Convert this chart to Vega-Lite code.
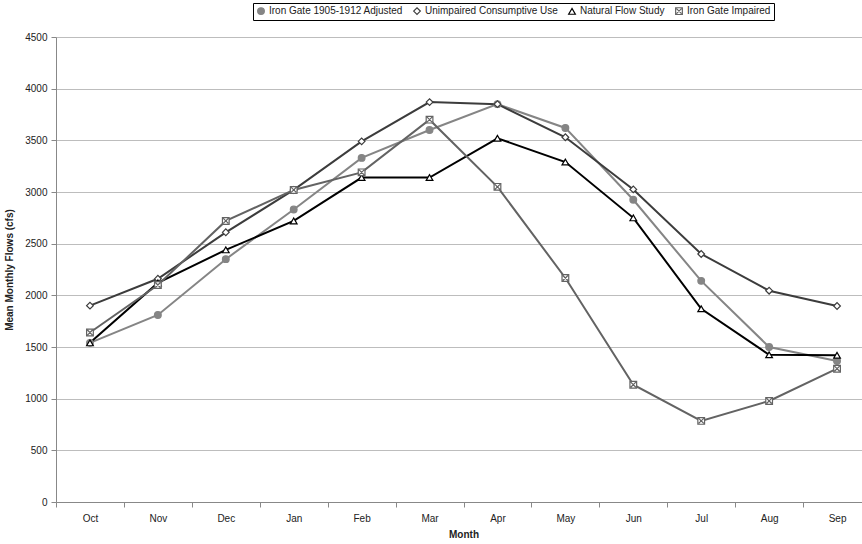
{
  "$schema": "https://vega.github.io/schema/vega-lite/v6.json",
  "width": 806,
  "height": 465,
  "autosize": {"type": "none"},
  "padding": {"left": 56, "top": 37, "right": 0, "bottom": 42},
  "background": "white",
  "config": {
    "font": "Liberation Sans",
    "view": {"stroke": null},
    "axis": {"labelFont": "Liberation Sans", "titleFont": "Liberation Sans", "labelColor": "#222", "titleColor": "#222"}
  },
  "data": {
    "values": [
      {"month": "Oct", "series": "Iron Gate 1905-1912 Adjusted", "flow": 1540},
      {"month": "Nov", "series": "Iron Gate 1905-1912 Adjusted", "flow": 1810},
      {"month": "Dec", "series": "Iron Gate 1905-1912 Adjusted", "flow": 2350},
      {"month": "Jan", "series": "Iron Gate 1905-1912 Adjusted", "flow": 2830},
      {"month": "Feb", "series": "Iron Gate 1905-1912 Adjusted", "flow": 3330},
      {"month": "Mar", "series": "Iron Gate 1905-1912 Adjusted", "flow": 3600},
      {"month": "Apr", "series": "Iron Gate 1905-1912 Adjusted", "flow": 3850},
      {"month": "May", "series": "Iron Gate 1905-1912 Adjusted", "flow": 3620},
      {"month": "Jun", "series": "Iron Gate 1905-1912 Adjusted", "flow": 2925},
      {"month": "Jul", "series": "Iron Gate 1905-1912 Adjusted", "flow": 2140},
      {"month": "Aug", "series": "Iron Gate 1905-1912 Adjusted", "flow": 1500},
      {"month": "Sep", "series": "Iron Gate 1905-1912 Adjusted", "flow": 1365},
      {"month": "Oct", "series": "Unimpaired Consumptive Use", "flow": 1900},
      {"month": "Nov", "series": "Unimpaired Consumptive Use", "flow": 2160},
      {"month": "Dec", "series": "Unimpaired Consumptive Use", "flow": 2610},
      {"month": "Jan", "series": "Unimpaired Consumptive Use", "flow": 3020},
      {"month": "Feb", "series": "Unimpaired Consumptive Use", "flow": 3490},
      {"month": "Mar", "series": "Unimpaired Consumptive Use", "flow": 3870},
      {"month": "Apr", "series": "Unimpaired Consumptive Use", "flow": 3850},
      {"month": "May", "series": "Unimpaired Consumptive Use", "flow": 3530},
      {"month": "Jun", "series": "Unimpaired Consumptive Use", "flow": 3025},
      {"month": "Jul", "series": "Unimpaired Consumptive Use", "flow": 2400},
      {"month": "Aug", "series": "Unimpaired Consumptive Use", "flow": 2045},
      {"month": "Sep", "series": "Unimpaired Consumptive Use", "flow": 1897},
      {"month": "Oct", "series": "Natural Flow Study", "flow": 1540},
      {"month": "Nov", "series": "Natural Flow Study", "flow": 2120},
      {"month": "Dec", "series": "Natural Flow Study", "flow": 2440},
      {"month": "Jan", "series": "Natural Flow Study", "flow": 2720},
      {"month": "Feb", "series": "Natural Flow Study", "flow": 3140},
      {"month": "Mar", "series": "Natural Flow Study", "flow": 3140},
      {"month": "Apr", "series": "Natural Flow Study", "flow": 3520},
      {"month": "May", "series": "Natural Flow Study", "flow": 3290},
      {"month": "Jun", "series": "Natural Flow Study", "flow": 2750},
      {"month": "Jul", "series": "Natural Flow Study", "flow": 1870},
      {"month": "Aug", "series": "Natural Flow Study", "flow": 1425},
      {"month": "Sep", "series": "Natural Flow Study", "flow": 1420},
      {"month": "Oct", "series": "Iron Gate Impaired", "flow": 1640},
      {"month": "Nov", "series": "Iron Gate Impaired", "flow": 2100},
      {"month": "Dec", "series": "Iron Gate Impaired", "flow": 2720},
      {"month": "Jan", "series": "Iron Gate Impaired", "flow": 3020},
      {"month": "Feb", "series": "Iron Gate Impaired", "flow": 3190},
      {"month": "Mar", "series": "Iron Gate Impaired", "flow": 3700},
      {"month": "Apr", "series": "Iron Gate Impaired", "flow": 3050},
      {"month": "May", "series": "Iron Gate Impaired", "flow": 2168},
      {"month": "Jun", "series": "Iron Gate Impaired", "flow": 1135},
      {"month": "Jul", "series": "Iron Gate Impaired", "flow": 785},
      {"month": "Aug", "series": "Iron Gate Impaired", "flow": 978},
      {"month": "Sep", "series": "Iron Gate Impaired", "flow": 1290}
    ]
  },
  "encoding": {
    "x": {
      "field": "month", "type": "nominal", "sort": null,
      "scale": {"type": "band", "range": [0, 815], "paddingInner": 0, "paddingOuter": 0},
      "axis": {"title": "Month", "labelAngle": 0, "labelFontSize": 10, "titleFontSize": 10, "titleFontWeight": "bold", "titlePadding": 6, "domainColor": "#888", "tickColor": "#888", "tickBand": "extent", "tickSize": 5, "labelPadding": 6, "grid": false}
    },
    "y": {
      "field": "flow", "type": "quantitative",
      "scale": {"domain": [0, 4500], "nice": false},
      "axis": {"title": "Mean Monthly Flows (cfs)", "format": "d", "values": [0, 500, 1000, 1500, 2000, 2500, 3000, 3500, 4000, 4500], "labelFontSize": 10, "titleFontSize": 10, "titleFontWeight": "bold", "titlePadding": 10, "grid": true, "gridColor": "#bdbdbd", "domainColor": "#888", "tickColor": "#888", "tickSize": 5, "labelPadding": 4}
    }
  },
  "layer": [
    {
      "mark": {"type": "line", "strokeWidth": 2},
      "encoding": {
        "stroke": {
          "field": "series", "type": "nominal",
          "scale": {"domain": ["Iron Gate 1905-1912 Adjusted", "Unimpaired Consumptive Use", "Natural Flow Study", "Iron Gate Impaired"], "range": ["#858585", "#3c3c3c", "#000000", "#636363"]},
          "legend": {"title": null, "orient": "none", "legendX": 197, "legendY": -34, "direction": "horizontal", "strokeColor": "#000", "fillColor": "white", "padding": 3, "labelFontSize": 10, "labelFont": "Liberation Sans", "labelColor": "#222", "symbolSize": 45, "columnPadding": 8, "labelOffset": 3, "symbolStrokeWidth": 1.2}
        }
      }
    },
    {
      "mark": {"type": "point", "filled": false, "size": 45, "strokeWidth": 1.2, "opacity": 1},
      "encoding": {
        "shape": {
          "field": "series", "type": "nominal",
          "scale": {"domain": ["Iron Gate 1905-1912 Adjusted", "Unimpaired Consumptive Use", "Natural Flow Study", "Iron Gate Impaired"], "range": ["circle", "diamond", "triangle-up", "M-1,-1H1V1H-1Z M-0.75,-0.75L0.75,0.75 M0.75,-0.75L-0.75,0.75"]}
        },
        "stroke": {
          "field": "series", "type": "nominal"
        },
        "fill": {
          "field": "series", "type": "nominal",
          "scale": {"domain": ["Iron Gate 1905-1912 Adjusted", "Unimpaired Consumptive Use", "Natural Flow Study", "Iron Gate Impaired"], "range": ["#858585", "#ffffff", "#ffffff", "#ffffff"]}
        }
      }
    }
  ]
}
